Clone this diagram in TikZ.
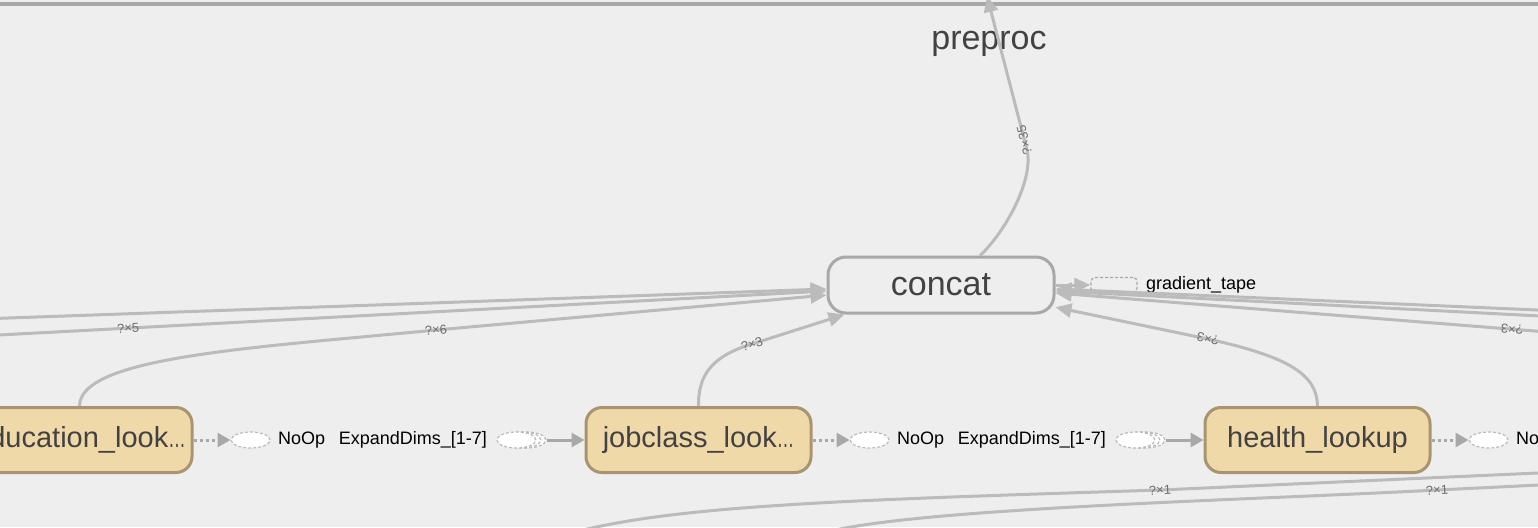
\documentclass[tikz,border=0pt]{standalone}
\usepackage{fontspec}
\setmainfont{Liberation Sans}
\usepackage{graphicx}
\usepackage{tikz}
\usetikzlibrary{positioning}
\usetikzlibrary{arrows.meta,shapes.geometric}

\definecolor{bggray}{HTML}{EEEEEE}
\definecolor{edgegray}{HTML}{BBBBBB}
\definecolor{framegray}{HTML}{A8A8A8}
\definecolor{lookfill}{HTML}{F0D9A8}
\definecolor{lookdraw}{HTML}{A8956F}
\definecolor{darktext}{HTML}{424242}
\definecolor{labelgray}{HTML}{6E6E6E}
\newcommand{\cutoff}{\scalebox{0.6}[1]{…}}

\begin{document}
\begin{tikzpicture}[x=0.5pt, y=-0.5pt,
    flow/.style={draw=edgegray, line width=1.5pt, -{Triangle[length=8pt,width=7pt]}},
    ctrl/.style={draw=framegray, line width=1.5pt, dash pattern=on 1.5pt off 1.5pt, -{Triangle[length=6.5pt,width=7pt]}},
    feed/.style={draw=framegray, line width=1.5pt, -{Triangle[length=6.5pt,width=7pt]}},
    opbox/.style={draw=framegray, fill=bggray, line width=1.5pt, rounded corners=9pt, minimum width=113pt, minimum height=28pt, font=\fontsize{17}{20}\selectfont, text=darktext},
    lookbox/.style={draw=lookdraw, fill=lookfill, line width=1.5pt, rounded corners=8pt, minimum width=112.5pt, minimum height=32.5pt, inner sep=2pt, font=\fontsize{14.5}{17}\selectfont, text=darktext},
    noop/.style={ellipse, draw=edgegray, fill=white, line width=0.6pt, dash pattern=on 1.5pt off 1pt, minimum width=19.5pt, minimum height=8pt, inner sep=0pt},
    small/.style={font=\fontsize{9}{11}\selectfont, inner sep=0pt},
    elabel/.style={font=\fontsize{6.5}{8}\selectfont, text=labelgray, inner sep=1pt}]

    \useasboundingbox (0,0) rectangle (1538,527);
    \fill[bggray] (0,0) rectangle (1538,527);
    \clip (0,0) rectangle (1538,527);
    \draw[framegray, line width=2pt] (0,4) -- (1538,4);

    \node(preproc) at (989,44) [font=\fontsize{17}{20}\selectfont, text=darktext] {preproc};
    \coordinate(prepin) at (987,-4);

    \node(concat) at (941,285) [opbox] {concat};
    \node(gtape) at (1114,285) [draw=framegray, fill=bggray, line width=0.6pt, dash pattern=on 1.5pt off 1pt, rounded corners=2pt, minimum width=23pt, minimum height=7.5pt, inner sep=0pt] {};
    \node(gtapet) [small, right=4pt of gtape] {gradient\_tape};

    \node(edu) at (79.5,440) [lookbox] {education\_look\cutoff};
    \node(job) at (698.5,440) [lookbox] {jobclass\_look\cutoff};
    \node(health) at (1317.5,440) [lookbox] {health\_lookup};

    \node(noop1) [noop, right=18.5pt of edu] {};
    \node(noopt1) [small, right=3.5pt of noop1] {NoOp};
    \node(exp1c) [noop, left=19pt of job] {};
    \node(exp1b) at ([xshift=-2.5pt]exp1c) [noop] {};
    \node(exp1a) at ([xshift=-2.5pt]exp1b) [noop] {};
    \node(expt1) [small, left=4.5pt of exp1a] {ExpandDims\_[1-7]};

    \node(noop2) [noop, right=18.5pt of job] {};
    \node(noopt2) [small, right=3.5pt of noop2] {NoOp};
    \node(exp2c) [noop, left=19pt of health] {};
    \node(exp2b) at ([xshift=-2.5pt]exp2c) [noop] {};
    \node(exp2a) at ([xshift=-2.5pt]exp2b) [noop] {};
    \node(expt2) [small, left=4.5pt of exp2a] {ExpandDims\_[1-7]};

    \node(noop3) [noop, right=18.5pt of health] {};
    \node(noopt3) [small, right=3.5pt of noop3] {NoOp};

    \coordinate(inA) at (-20,319);
    \coordinate(inB) at (-20,336);
    \coordinate(inR1) at (1560,311);
    \coordinate(inR2) at (1560,317);
    \coordinate(inR3) at (1560,333);
    \coordinate(low1) at (575,532);
    \coordinate(low1e) at (1560,472);
    \coordinate(low2) at (827,532);
    \coordinate(low2e) at (1560,484);

    \draw[flow] (concat.37) .. controls (1005,232) and (1034,180) .. (1027,150)
        -- node[elabel, sloped, allow upside down, pos=0.065] {?×35} (prepin);
    \draw[flow] (inA) -- (concat.182);
    \draw[flow] (inB) -- node[elabel, sloped, pos=0.175] {?×5} (concat.183);
    \draw[flow] (edu.north) .. controls (80,357) and (250,348) .. (436,330)
        -- node[elabel, sloped, pos=0] {?×6} (concat.185);
    \draw[flow] (job.north) .. controls (698,375) and (712,356) .. (752,344)
        -- node[elabel, sloped, pos=0] {?×3} (concat.197);
    \draw[flow] (health.north) .. controls (1317,375) and (1290,357) .. (1208,339)
        -- node[elabel, sloped, allow upside down, pos=0] {?×3} (concat.349);
    \draw[flow] (inR1) -- (concat.358);
    \draw[flow] (inR2) -- (concat.357);
    \draw[flow] (inR3) -- node[elabel, sloped, allow upside down, pos=0.095] {?×3} (concat.356);
    \draw[flow] (concat.east) -- (gtape.west);

    \draw[flow] (low1) .. controls (680,505) and (850,500) .. (1160,490)
        -- node[elabel, sloped, pos=0] {?×1} (low1e);
    \draw[flow] (low2) .. controls (920,508) and (1250,500) .. (1437,490)
        -- node[elabel, sloped, pos=0] {?×1} (low2e);

    \draw[ctrl] (edu) -- (noop1);
    \draw[feed] (exp1c) -- (job);
    \draw[ctrl] (job) -- (noop2);
    \draw[feed] (exp2c) -- (health);
    \draw[ctrl] (health) -- (noop3);
\end{tikzpicture}
\end{document}
